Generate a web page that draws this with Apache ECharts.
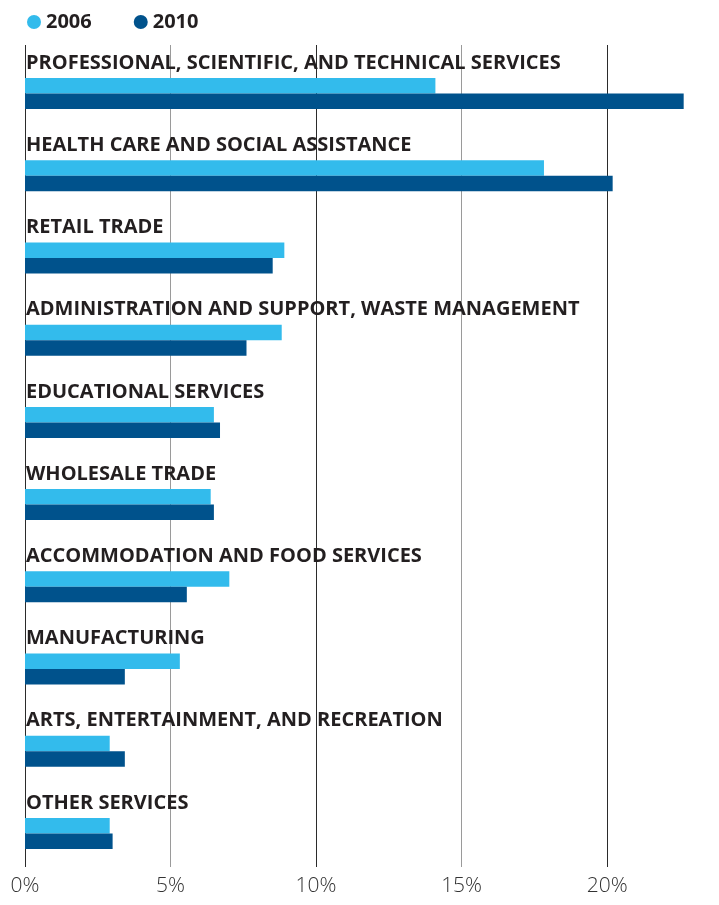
<!DOCTYPE html>
<html>
<head>
<meta charset="utf-8">
<script src="https://cdn.jsdelivr.net/npm/echarts@6/dist/echarts.min.js"></script>
<style>
  html, body { margin: 0; padding: 0; background: #fff; }
  #chart_box { width: 719px; height: 905px; }
</style>
</head>
<body>
<div id="chart_box"></div>
<script>
// categories, top to bottom
var categories = [
  "PROFESSIONAL, SCIENTIFIC, AND TECHNICAL SERVICES",
  "HEALTH CARE AND SOCIAL ASSISTANCE",
  "RETAIL TRADE",
  "ADMINISTRATION AND SUPPORT, WASTE MANAGEMENT",
  "EDUCATIONAL SERVICES",
  "WHOLESALE TRADE",
  "ACCOMMODATION AND FOOD SERVICES",
  "MANUFACTURING",
  "ARTS, ENTERTAINMENT, AND RECREATION",
  "OTHER SERVICES"
];
var seriesNames = ["2006", "2010"];
var values2006 = [14.1, 17.83, 8.91, 8.82, 6.49, 6.38, 7.02, 5.32, 2.91, 2.91];
var values2010 = [22.63, 20.19, 8.51, 7.61, 6.7, 6.49, 5.56, 3.43, 3.43, 3.01];
var tickValues = [0, 5, 10, 15, 20];

var lightBlue = "#33bbec";
var darkBlue = "#00528c";
var xMax = 23.5;
var font = "Open Sans";

var myChart = echarts.init(document.getElementById("chart_box"));

var option = {
  animation: false,
  legend: {
    left: 22,
    top: 7,
    icon: "circle",
    itemWidth: 14,
    itemHeight: 14,
    itemGap: 42,
    data: seriesNames,
    textStyle: { fontFamily: font, fontSize: 20, fontWeight: "bold", color: "#231f20" }
  },
  grid: [
    // grid for the gridlines / axis labels
    { left: 25, top: 45, width: 684, height: 822 },
    // bars sit a bit lower within each row, under the label
    { left: 25, top: 52.5, width: 684, height: 822 }
  ],
  xAxis: [
    {
      gridIndex: 0,
      type: "value",
      min: 0,
      max: xMax,
      interval: 5,
      axisLine: { show: false },
      axisTick: { show: false },
      splitLine: {
        show: true,
        showMaxLine: false,
        lineStyle: { color: ["#2b2b2b", "#9a9a9a"], width: 1 }
      },
      axisLabel: {
        margin: 9,
        fontFamily: font,
        fontSize: 21,
        fontWeight: 300,
        color: "#333",
        showMaxLabel: false,
        formatter: function (v) {
          return tickValues.indexOf(v) >= 0 ? v + "%" : "";
        }
      }
    },
    {
      gridIndex: 1,
      type: "value",
      min: 0,
      max: xMax,
      show: false
    }
  ],
  yAxis: [
    {
      gridIndex: 0,
      type: "category",
      inverse: true,
      data: categories,
      axisLine: { show: false },
      axisTick: { show: false },
      axisLabel: {
        inside: true,
        margin: 1,
        fontFamily: font,
        fontSize: 20,
        fontWeight: "bold",
        color: "#231f20",
        verticalAlign: "bottom",
        lineHeight: 46
      },
      z: 10
    },
    {
      gridIndex: 1,
      type: "category",
      inverse: true,
      data: categories,
      show: false
    }
  ],
  series: [
    {
      name: seriesNames[0],
      type: "bar",
      xAxisIndex: 1,
      yAxisIndex: 1,
      barWidth: 15.5,
      barGap: 0,
      itemStyle: { color: lightBlue },
      data: values2006
    },
    {
      name: seriesNames[1],
      type: "bar",
      xAxisIndex: 1,
      yAxisIndex: 1,
      barWidth: 15.5,
      barGap: 0,
      itemStyle: { color: darkBlue },
      data: values2010
    }
  ]
};
myChart.setOption(option);
</script>
</body>
</html>
